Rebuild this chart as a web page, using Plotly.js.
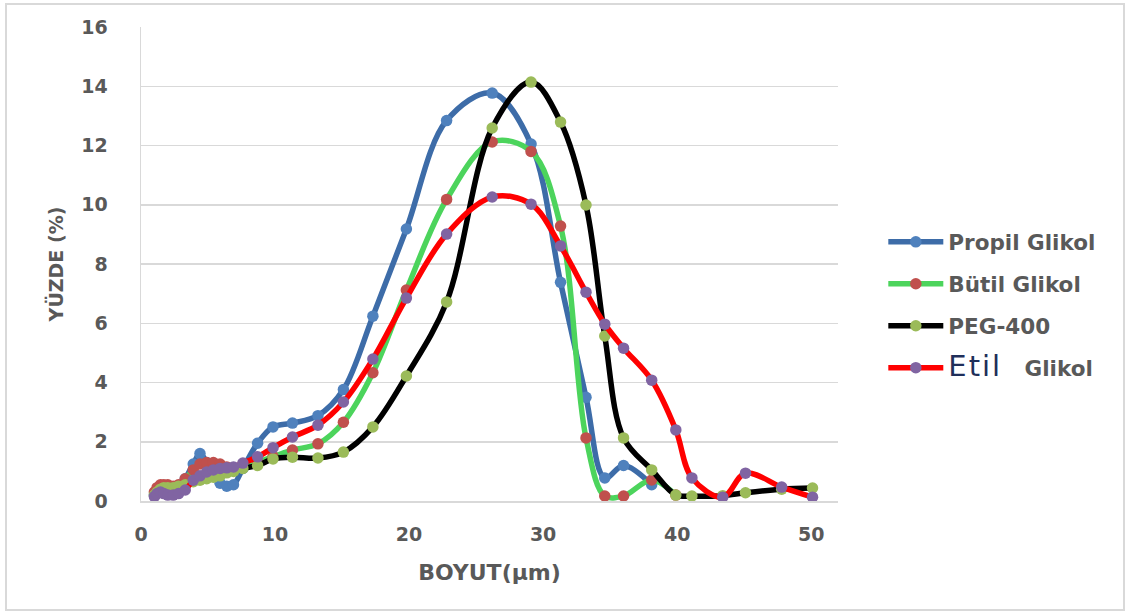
<!DOCTYPE html>
<html>
<head>
<meta charset="utf-8">
<script src="https://cdn.plot.ly/plotly-3.0.1.min.js"></script>
<style>
  html, body { margin: 0; padding: 0; background: #fff; }
  #chart { width: 1129px; height: 611px; }
  #frame { position: absolute; left: 5px; top: 3px; width: 1116px; height: 604px; border: 2px solid #D9D9D9; pointer-events: none; }
</style>
</head>
<body>
<div id="chart"></div>
<div id="frame"></div>
<script>
// Particle size bins (µm)
const sizes = [1.0, 1.2, 1.45, 1.7, 2.0, 2.4, 2.8, 3.3, 3.9, 4.4, 4.9, 5.4, 5.9, 6.4, 6.9, 7.6, 8.7,
  9.85, 11.3, 13.2, 15.1, 17.3, 19.8, 22.8, 26.2, 29.1, 31.3, 33.2, 34.6, 36.0, 38.1, 39.9, 41.1, 43.4, 45.1, 47.8, 50.1];

// Percentages per series
const propilGlikol = [0.2, 0.3, 0.35, 0.35, 0.35, 0.35, 0.45, 0.75, 1.25, 1.6, 1.3, 0.85, 0.6, 0.5, 0.55, 1.1, 1.95,
  2.5, 2.63, 2.88, 3.76, 6.24, 9.18, 12.84, 13.77, 12.05, 7.38, 3.5, 0.78, 1.2, 0.55];
const butilGlikol = [0.3, 0.45, 0.55, 0.55, 0.55, 0.5, 0.55, 0.75, 1.05, 1.25, 1.3, 1.3, 1.25, 1.15, 1.1, 1.15, 1.3,
  1.5, 1.72, 1.93, 2.66, 4.33, 7.12, 10.18, 12.12, 11.8, 9.28, 2.13, 0.17, 0.17, 0.71, 0.2];
const peg400 = [0.2, 0.3, 0.4, 0.45, 0.45, 0.45, 0.5, 0.55, 0.65, 0.7, 0.75, 0.8, 0.85, 0.95, 1.0, 1.1, 1.2,
  1.42, 1.48, 1.45, 1.65, 2.5, 4.22, 6.72, 12.59, 14.14, 12.79, 9.99, 5.57, 2.13, 1.05, 0.2, 0.17, 0.18, 0.28, 0.4, 0.44];
const etilGlikol = [0.15, 0.25, 0.3, 0.25, 0.2, 0.2, 0.25, 0.37, 0.7, 0.85, 0.98, 1.05, 1.1, 1.12, 1.15, 1.28, 1.49,
  1.8, 2.16, 2.56, 3.34, 4.79, 6.85, 9.01, 10.26, 10.02, 8.61, 7.05, 5.97, 5.16, 4.08, 2.4, 0.78, 0.13, 0.94, 0.47, 0.13];

const seriesNames = ['Propil Glikol', 'Bütil Glikol', 'PEG-400',
  '<span style="font-family:DejaVu Sans, sans-serif;font-weight:normal;font-size:29px;color:#1F2F5A;letter-spacing:2px">Etil</span>   Glikol'];
const xTicks = [0, 10, 20, 30, 40, 50];
const yTicks = [0, 2, 4, 6, 8, 10, 12, 14, 16];

const seriesData = [propilGlikol, butilGlikol, peg400, etilGlikol];
const lineColors = ['#3D6CA8', '#4CD45C', '#000000', '#FF0000'];
const markerColors = ['#4F81BD', '#C0504D', '#9BBB59', '#8064A2'];

const traces = seriesData.map((ys, i) => ({
  type: 'scatter',
  mode: 'lines+markers',
  name: seriesNames[i],
  legendgroup: 'g' + i,
  x: sizes.slice(0, ys.length),
  y: ys,
  line: { color: lineColors[i], width: 5.5, shape: 'spline', smoothing: 1 },
  marker: { color: markerColors[i], size: 11.5 }
}));

const FONT = 'DejaVu Sans, sans-serif';
const layout = {
  width: 1129, height: 611,
  margin: { l: 141, r: 291, t: 27, b: 110 },
  paper_bgcolor: '#fff', plot_bgcolor: '#fff',
  font: { family: FONT, color: '#595959', size: 18, weight: 'bold' },
  showlegend: true,
  legend: {
    x: 1.065, y: 0.59, xanchor: 'left', yanchor: 'top',
    font: { family: FONT, size: 21.5, color: '#595959', weight: 'bold' },
    tracegroupgap: 11, itemwidth: 55, bgcolor: 'rgba(0,0,0,0)'
  },
  xaxis: {
    range: [0, 52], tickvals: xTicks, ticktext: xTicks.map(String),
    showgrid: false, zeroline: false,
    showline: true, linecolor: '#D9D9D9', linewidth: 1.5,
    ticks: '', ticklabelstandoff: 16,
    tickfont: { family: FONT, size: 19, color: '#595959', weight: 'bold' },
    title: { text: 'BOYUT(µm)', font: { family: FONT, size: 22, color: '#595959', weight: 'bold' }, standoff: 20 }
  },
  yaxis: {
    range: [0, 16], tickvals: yTicks, ticktext: yTicks.map(String),
    showgrid: true, gridcolor: '#D9D9D9', gridwidth: 1.5, zeroline: false,
    showline: true, linecolor: '#D9D9D9', linewidth: 1.5,
    ticks: '', ticklabelstandoff: 28,
    tickfont: { family: FONT, size: 19, color: '#595959', weight: 'bold' },
    title: { text: 'YÜZDE (%)', font: { family: FONT, size: 19, color: '#595959', weight: 'bold' }, standoff: 12 }
  }
};

Plotly.newPlot('chart', traces, layout, { displayModeBar: false, staticPlot: true });
</script>
</body>
</html>
